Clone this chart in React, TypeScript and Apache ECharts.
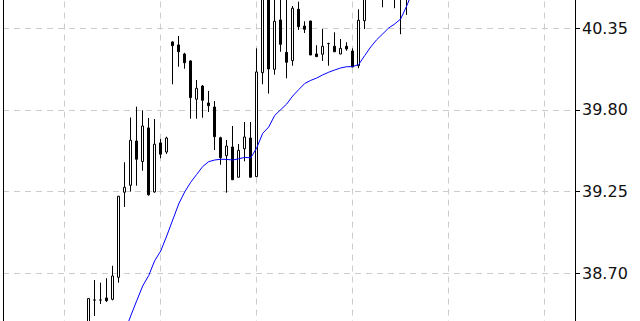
import React, { useEffect, useRef } from 'react';
import * as echarts from 'echarts';

// Candle values (open, close, low, high), left to right.
const opens = [
  38.30, 38.52, 38.52, 38.534, 38.525, 38.673, 39.246, 39.293, 39.591, 39.453,
  39.679, 39.248, 39.578, 39.517, 40.258, 40.238, 40.177, 40.130, 39.872, 39.961,
  39.847, 39.820, 39.613, 39.492, 39.551, 39.347, 39.539, 39.611, 39.351, 40.051,
  40.620, 40.074, 40.406, 40.188, 40.132, 40.478, 40.365, 40.399, 40.177, 40.175,
  40.247, 40.229, 40.177, 40.229, 40.197, 40.098, 40.401, 40.56, 40.62, 40.66,
  40.62, 40.66, 40.60, 40.58, 40.66,
];
const closes = [
  38.53, 38.52, 38.52, 38.516, 38.682, 39.219, 39.279, 39.596, 39.468, 39.692,
  39.229, 39.569, 39.502, 39.611, 40.233, 40.192, 40.118, 39.883, 39.946, 39.865,
  39.829, 39.620, 39.479, 39.557, 39.330, 39.528, 39.618, 39.347, 40.056, 40.600,
  40.076, 40.397, 40.242, 40.121, 40.485, 40.361, 40.343, 40.170, 40.159, 40.229,
  40.247, 40.192, 40.215, 40.211, 40.089, 40.404, 40.560, 40.62, 40.68, 40.62,
  40.66, 40.60, 40.58, 40.66, 40.72,
];
const lows = [
  38.25, 38.413, 38.493, 38.507, 38.518, 38.637, 39.147, 39.250, 39.290, 39.391,
  39.223, 39.243, 39.475, 39.504, 39.973, 40.091, 40.078, 39.741, 39.741, 39.748,
  39.786, 39.530, 39.431, 39.243, 39.330, 39.347, 39.454, 39.347, 39.351, 39.973,
  39.910, 40.038, 40.192, 40.013, 40.098, 40.339, 40.318, 40.170, 40.159, 40.130,
  40.098, 40.190, 40.175, 40.199, 40.089, 40.081, 40.345, 40.55, 40.58, 40.491,
  40.56, 40.485, 40.31, 40.44, 40.60,
];
const highs = [
  38.53, 38.655, 38.637, 38.667, 38.751, 39.221, 39.448, 39.749, 39.822, 39.798,
  39.746, 39.739, 39.605, 39.620, 40.262, 40.298, 40.185, 40.135, 40.002, 39.968,
  39.928, 39.860, 39.620, 39.598, 39.692, 39.571, 39.719, 39.719, 40.215, 40.630,
  40.640, 40.560, 40.570, 40.560, 40.500, 40.529, 40.397, 40.400, 40.236, 40.345,
  40.253, 40.323, 40.278, 40.256, 40.215, 40.478, 40.600, 40.66, 40.72, 40.70,
  40.70, 40.70, 40.66, 40.70, 40.76,
];
// Moving average (blue line); null where it is not drawn.
const maValues = [
  null, null, null, null, null, null, 38.305, 38.413, 38.515, 38.615,
  38.685, 38.785, 38.850, 38.951, 39.059, 39.167, 39.248, 39.313, 39.366, 39.419,
  39.452, 39.463, 39.468, 39.467, 39.463, 39.471, 39.481, 39.477, 39.544, 39.643,
  39.685, 39.763, 39.802, 39.840, 39.894, 39.937, 39.978, 39.999, 40.015, 40.036,
  40.054, 40.069, 40.083, 40.091, 40.092, 40.106, 40.166, 40.224, 40.273, 40.312,
  40.352, 40.379, 40.413, 40.50, 40.60,
];
// Price axis: visible ticks 38.70 / 39.25 / 39.80 / 40.35
const yMin = 38.15;
const yMax = 40.9;
const yStep = 0.55;

// layout of the horizontal (bar index) axis
const X_FIRST = 4.15;
const X_MIN = -10.133;
const X_MAX = 85.2;

export default function App() {
  const ref = useRef<HTMLDivElement>(null);
  useEffect(() => {
    if (!ref.current) return;
    const chart = echarts.init(ref.current, undefined, { renderer: 'svg' });
    const candles = opens.map((o, i) => [X_FIRST + i, o, closes[i], lows[i], highs[i]]);
    const ma: number[][] = [];
    maValues.forEach((v, i) => {
      if (v != null) ma.push([X_FIRST + i, v]);
    });
    const grid = '#cccccc';
    chart.setOption({
      animation: false,
      backgroundColor: '#ffffff',
      grid: {
        left: 3,
        right: 65,
        top: -53.4,
        bottom: -34,
        containLabel: false,
        outerBoundsMode: 'none',
      },
      xAxis: {
        type: 'value',
        min: X_MIN,
        max: X_MAX,
        minInterval: 16,
        maxInterval: 16,
        axisLine: { show: false, onZero: false },
        axisTick: { show: false },
        axisLabel: { show: false },
        splitLine: { show: true, lineStyle: { color: grid, width: 1, type: [6, 5] } },
      },
      yAxis: [
        {
          type: 'value',
          position: 'right',
          min: yMin,
          max: yMax,
          interval: yStep,
          z: 1,
          axisLine: { show: true, onZero: false, lineStyle: { color: '#000', width: 1 } },
          axisTick: { show: true, inside: false, length: 5, lineStyle: { color: '#000' } },
          axisLabel: {
            show: true,
            margin: 7,
            color: '#111',
            fontSize: 16,
            fontFamily: 'DejaVu Sans',
            showMinLabel: false,
            showMaxLabel: false,
            formatter: (v: number) => v.toFixed(2),
          },
          splitLine: { show: true, lineStyle: { color: grid, width: 1, type: [6, 5] } },
        },
        {
          type: 'value',
          position: 'left',
          min: yMin,
          max: yMax,
          z: 1,
          axisLine: { show: true, onZero: false, lineStyle: { color: '#000', width: 1 } },
          axisTick: { show: false },
          axisLabel: { show: false },
          splitLine: { show: false },
        },
      ],
      series: [
        {
          type: 'candlestick',
          data: candles,
          barWidth: 3,
          clip: true,
          itemStyle: {
            color: '#ffffff',
            color0: '#000000',
            borderColor: '#000000',
            borderColor0: '#000000',
            borderWidth: 1,
          },
        },
        {
          type: 'line',
          data: ma,
          showSymbol: false,
          symbol: 'none',
          clip: true,
          lineStyle: { color: '#0000ff', width: 1 },
          z: 3,
        },
      ],
    });
    return () => chart.dispose();
  }, []);
  return (
    <div
      ref={ref}
      style={{ position: 'fixed', left: 0, top: 0, width: 640, height: 321 }}
    />
  );
}
